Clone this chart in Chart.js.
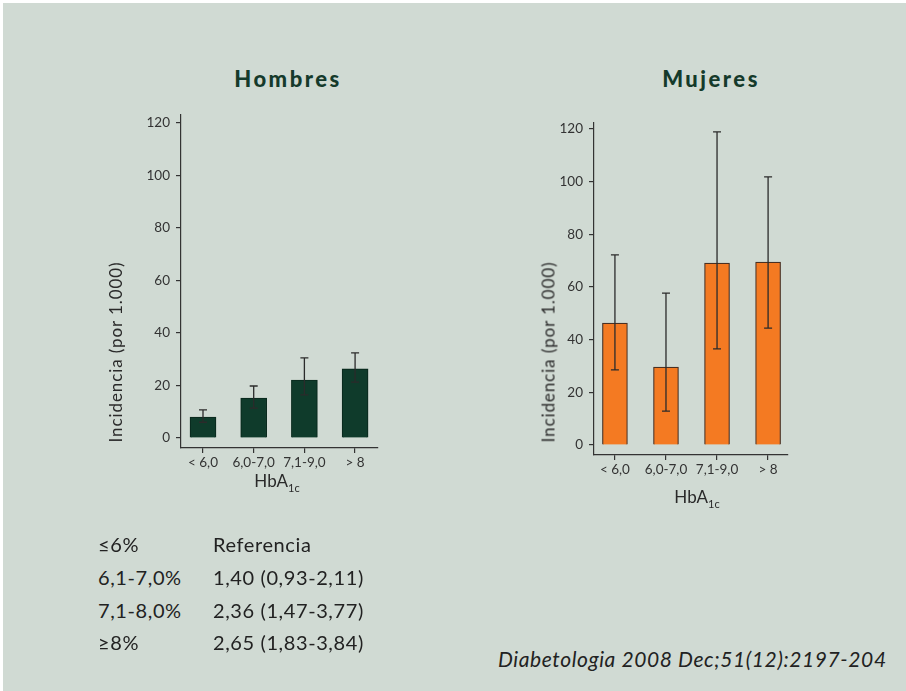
<!DOCTYPE html>
<html>
<head>
<meta charset="utf-8">
<script src="https://cdn.jsdelivr.net/npm/chart.js@4/dist/chart.umd.min.js"></script>
<style>
  body { margin: 0; background: #fff; width: 906px; height: 691px; overflow: hidden; font-family: Lato, "Noto Sans", sans-serif; }
  #panel { position: absolute; left: 3px; top: 3px; width: 903px; height: 688px; background: #d0dad3; }
  .abs { position: absolute; white-space: nowrap; color: #222; }
  canvas { position: absolute; }
  .title { font-size: 22px; font-weight: 900; color: #153a2b; letter-spacing: 2.5px; transform: translate(-50%, -50%); }
  .ylab { font-size: 17px; color: #2a2a2a; letter-spacing: 0.9px; transform: translate(-50%, -50%) rotate(-90deg); }
  .xlab { font-size: 17px; color: #2a2a2a; transform: translate(-50%, -50%); }
  .xlab sub { font-size: 11px; }
  .tbl { font-size: 20px; color: #222; letter-spacing: 0.6px; transform: translateY(-50%); }
  .cite { font-size: 21px; font-style: italic; color: #222; letter-spacing: 0.6px; transform: translateY(-50%); }
</style>
</head>
<body>
<div id="panel"></div>
<div class="abs title" style="left:288px; top:78px;">Hombres</div>
<div class="abs title" style="left:711px; top:78px;">Mujeres</div>
<canvas id="menChart" width="300" height="400" style="left:90px; top:100px; width:300px; height:400px;"></canvas>
<canvas id="womenChart" width="300" height="400" style="left:505px; top:100px; width:300px; height:400px;"></canvas>
<div class="abs ylab" style="left:115px; top:352px;">Incidencia (por 1.000)</div>
<div class="abs ylab" style="left:548px; top:352px;">Incidencia (por 1.000)</div>
<div class="abs xlab" style="left:277px; top:482px;">HbA<sub>1c</sub></div>
<div class="abs xlab" style="left:697px; top:498px;">HbA<sub>1c</sub></div>
<div id="table"></div>
<div class="abs cite" style="left:498px; top:658px;">Diabetologia 2008 Dec;51(12):2197-204</div>

<script>
const categories = ['< 6,0', '6,0-7,0', '7,1-9,0', '> 8'];
const yTicks = [0, 20, 40, 60, 80, 100, 120];

const menValues = [8, 15.2, 22.1, 26.3];
const menLow = [6, 11.4, 16.4, 21.3];
const menHigh = [10.7, 19.8, 30.5, 32.4];

const womenValues = [46.3, 29.6, 69.1, 69.5];
const womenLow = [28.5, 12.9, 36.5, 44.4];
const womenHigh = [72.2, 57.7, 118.9, 101.8];

const tableGroups = ['≤6%', '6,1-7,0%', '7,1-8,0%', '≥8%'];
const tableRisk = ['Referencia', '1,40 (0,93-2,11)', '2,36 (1,47-3,77)', '2,65 (1,83-3,84)'];

// table below the men's chart
const rowY = [544, 577, 610, 642];
const tableDiv = document.getElementById('table');
tableGroups.forEach(function (g, i) {
    const a = document.createElement('div');
    a.className = 'abs tbl';
    a.style.left = '98px';
    a.style.top = rowY[i] + 'px';
    a.textContent = g;
    tableDiv.appendChild(a);
    const b = document.createElement('div');
    b.className = 'abs tbl';
    b.style.left = '213px';
    b.style.top = rowY[i] + 'px';
    b.textContent = tableRisk[i];
    tableDiv.appendChild(b);
});

const errorBars = {
    id: 'errorBars',
    afterDatasetsDraw(chart, args, opts) {
        const ctx = chart.ctx;
        const xs = chart.scales.x;
        const ys = chart.scales.y;
        ctx.save();
        ctx.strokeStyle = '#2b2b2b';
        ctx.lineWidth = 1.3;
        opts.low.forEach(function (lo, i) {
            const x = xs.getPixelForValue(i);
            const y1 = ys.getPixelForValue(lo);
            const y2 = ys.getPixelForValue(opts.high[i]);
            ctx.beginPath();
            ctx.moveTo(x, y1); ctx.lineTo(x, y2);
            ctx.moveTo(x - 4, y1); ctx.lineTo(x + 4, y1);
            ctx.moveTo(x - 4, y2); ctx.lineTo(x + 4, y2);
            ctx.stroke();
        });
        ctx.restore();
    }
};

function makeChart(id, values, low, high, fill, border, box) {
    const ctx = document.getElementById(id).getContext('2d');
    return new Chart(ctx, {
        type: 'bar',
        data: {
            datasets: [{
                data: values.map((v, i) => ({ x: i, y: v })),
                backgroundColor: fill,
                borderColor: border,
                borderWidth: 1.2,
                barThickness: box.barW
            }]
        },
        options: {
            responsive: false,
            animation: false,
            layout: { padding: { top: box.top, right: box.right, left: 0, bottom: 0 } },
            plugins: {
                legend: { display: false },
                tooltip: { enabled: false },
                errorBars: { low: low, high: high }
            },
            scales: {
                x: {
                    type: 'linear',
                    offset: false,
                    min: box.xMin,
                    max: box.xMax,
                    afterBuildTicks: s => { s.ticks = categories.map((c, i) => ({ value: i })); },
                    afterFit: s => { s.height = box.xH; },
                    grid: { offset: false, drawOnChartArea: false, drawTicks: true, tickLength: 5, color: '#333', lineWidth: 1.2 },
                    border: { display: true, color: '#333', width: 1.2 },
                    ticks: {
                        padding: 2,
                        color: '#333',
                        font: { family: 'Lato', size: 13.5 },
                        maxRotation: 0,
                        autoSkip: false,
                        callback: v => categories[v]
                    }
                },
                y: {
                    min: -3.8,
                    max: box.yMax,
                    afterBuildTicks: s => { s.ticks = yTicks.map(v => ({ value: v })); },
                    afterFit: s => { s.width = box.yW; },
                    grid: { drawOnChartArea: false, drawTicks: true, tickLength: 5, color: '#333', lineWidth: 1.2 },
                    border: { display: true, color: '#333', width: 1.2 },
                    ticks: {
                        padding: 6,
                        color: '#333',
                        font: { family: 'Lato', size: 13.5 }
                    }
                }
            }
        },
        plugins: [errorBars]
    });
}

makeChart('menChart', menValues, menLow, menHigh, '#0f3b2b', '#0a2a1e',
    { top: 15, right: 12, xH: 52, yW: 91, yMax: 123, xMin: -0.434, xMax: 3.452, barW: 26 });
makeChart('womenChart', womenValues, womenLow, womenHigh, '#f47a22', '#4a3022',
    { top: 23, right: 17, xH: 45, yW: 89, yMax: 122.3, xMin: -0.41, xMax: 3.39, barW: 25 });
</script>
</body>
</html>
